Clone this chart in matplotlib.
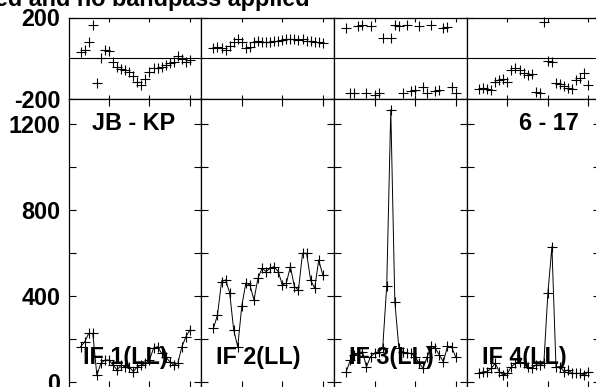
import matplotlib
matplotlib.use("Agg")
import matplotlib.pyplot as plt

plt.rcParams["font.family"] = ["Liberation Sans", "DejaVu Sans"]
plt.rcParams["font.weight"] = "bold"
plt.rcParams["axes.unicode_minus"] = False

canais = list(range(3, 31))

fase_if1 = [33, 41, 82, 165, -120, 0, 41, 38, -16, -41, -54, -58, -66, -87,
            -115, -132, -104, -66, -49, -46, -41, -33, -25, -16, 12, -5, -16, -8]
fase_if2 = [49, 54, 49, 41, 58, 82, 94, 82, 49, 54, 82, 87, 82, 79,
            82, 84, 87, 91, 94, 96, 94, 91, 94, 87, 86, 82, 79, 77]
fase_if3 = [150, -173, -173, 160, 165, -173, 158, -178, -170, 100, -250, 98, 162, 158,
            -173, 165, -163, -155, 160, -140, -173, 162, -163, -155, 148, 155, -140, -173]
fase_if4 = [-153, -148, -153, -156, -115, -107, -104, -115, -58, -50, -60, -72, -82, -76,
            -166, -170, 176, -14, -18, -120, -126, -134, -146, -150, -108, -98, -72, -132]

amp_if1 = [163, 186, 225, 225, 31, 86, 101, 101, 78, 55, 78, 70, 70, 47,
           70, 78, 86, 101, 156, 163, 132, 117, 93, 78, 86, 163, 210, 241]
amp_if2 = [249, 311, 466, 474, 415, 241, 163, 353, 459, 451, 381, 482, 528, 513,
           528, 536, 513, 451, 459, 536, 443, 427, 598, 598, 474, 435, 567, 497]
amp_if3 = [47, 101, 124, 132, 140, 70, 117, 132, 140, 156, 447, 1266, 373, 156,
           140, 132, 132, 117, 86, 63, 117, 165, 156, 124, 93, 165, 163, 117]
amp_if4 = [39, 47, 47, 62, 86, 47, 31, 39, 70, 86, 93, 86, 70, 62,
           78, 78, 86, 412, 629, 70, 70, 47, 55, 39, 39, 39, 31, 47]

fases = [fase_if1, fase_if2, fase_if3, fase_if4]
amplitudes = [amp_if1, amp_if2, amp_if3, amp_if4]
rotulos_if = ["IF 1(LL)", "IF 2(LL)", "IF 3(LL)", "IF 4(LL)"]

W, H = 596, 387
fig = plt.figure(figsize=(W / 100, H / 100), dpi=100)
tam = 16.8

esquerda, largura = 68.5, 132.8
for i in range(4):
    x0 = (esquerda + i * largura) / W
    ax_f = fig.add_axes([x0, (H - 99) / H, largura / W, 81.5 / H])
    ax_a = fig.add_axes([x0, (H - 388) / H, largura / W, 289 / H])

    ax_f.plot(canais, fases[i], "+", color="black", ms=7.5, mew=0.8, clip_on=False)
    ax_f.axhline(0, color="black", lw=0.8)
    ax_f.set_ylim(-200, 200)
    ax_f.set_yticks([-200, 200])

    ax_a.plot(canais, amplitudes[i], "-", color="black", lw=0.7)
    ax_a.plot(canais, amplitudes[i], "+", color="black", ms=7.5, mew=0.8)
    ax_a.set_ylim(-29, 1316)
    ax_a.set_yticks(range(0, 1201, 200))

    for ax, comp in ((ax_f, 3), (ax_a, 5)):
        ax.set_xlim(0, 32.8)
        ax.set_xticks([10, 20, 30])
        ax.set_xticklabels([])
        ax.tick_params(direction="in", top=True, right=True, length=comp, width=0.8,
                       labelsize=tam, pad=6)
        ax.tick_params(axis="y", length=5)
        for spine in ax.spines.values():
            spine.set_linewidth(0.9)
        if i == 0:
            continue
        ax.set_yticklabels([])

    if i == 0:
        ax_f.set_yticklabels(["-200", "200"])
        ax_a.set_yticklabels(["0", "", "400", "", "800", "", "1200"])

    ax_a.text(0.11, 113, rotulos_if[i], transform=ax_a.get_yaxis_transform(),
              ha="left", va="center", fontsize=tam, fontweight="bold")

fig.axes[1].text(0.175, 1200, "JB - KP", transform=fig.axes[1].get_yaxis_transform(),
                 ha="left", va="center", fontsize=tam, fontweight="bold")
fig.axes[7].text(0.84, 1200, "6 - 17", transform=fig.axes[7].get_yaxis_transform(),
                 ha="right", va="center", fontsize=tam, fontweight="bold")

fig.text(310 / W, 1 - 6 / H, "ed and no bandpass applied", ha="right", va="baseline",
         fontsize=tam, fontweight="bold")

fig.savefig("out.png", dpi=100)
